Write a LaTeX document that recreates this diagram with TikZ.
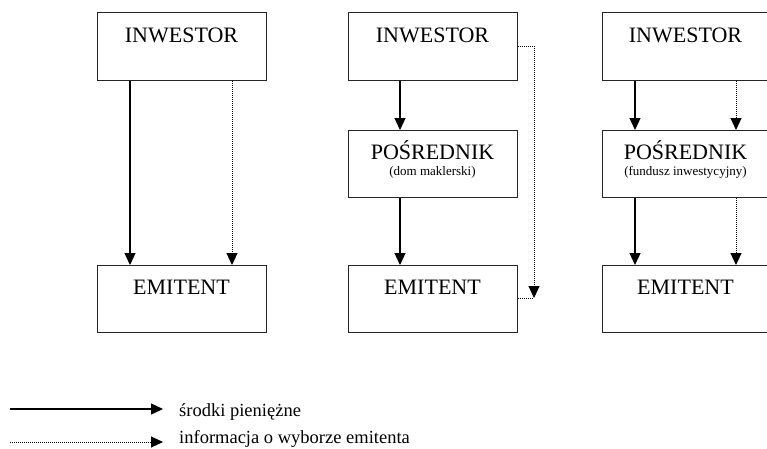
\documentclass[tikz,border=0pt]{standalone}
\usepackage{fontspec}
\setmainfont{Liberation Serif}
\usetikzlibrary{arrows.meta}
\tikzset{
  box/.style={draw=black!85, line width=1.1pt, minimum width=169pt, minimum height=67pt, anchor=north west, inner sep=0pt},
  big/.style={font=\fontsize{22}{24}\selectfont, anchor=base, inner sep=0pt},
  small/.style={font=\fontsize{13}{15}\selectfont, anchor=base, inner sep=0pt},
  leg/.style={font=\fontsize{18.5}{21}\selectfont, anchor=base west, inner sep=0pt},
  solidarrow/.style={line width=1.2pt, -{Triangle[width=11pt,length=12pt]}},
  dotarrow/.style={line width=1pt, dash pattern=on 1pt off 1pt, -{Triangle[width=11pt,length=12pt]}},
  dotline/.style={line width=1pt, dash pattern=on 1pt off 1pt}
}
\begin{document}
\begin{tikzpicture}[x=1pt,y=-1pt]
\useasboundingbox (0,0) rectangle (767,448);
% panel 1
\node[box, minimum height=68pt] (inv1) at (97,12) {};
\node[box, minimum height=67pt] (emi1) at (97,265) {};
\node[big] (tinv1) at (181.5,42) {INWESTOR};
\node[big] (temi1) at (181.5,294) {EMITENT};
\coordinate (a1) at (130,0);
\coordinate (b1) at (232,0);
\draw[solidarrow] (inv1.south -| a1) -- (emi1.north -| a1);
\draw[dotarrow] (inv1.south -| b1) -- (emi1.north -| b1);
% panel 2
\node[box, minimum height=68pt] (inv2) at (348,12) {};
\node[box, minimum height=67pt] (pos2) at (348,130) {};
\node[box, minimum height=67pt] (emi2) at (348,265) {};
\node[big] (tinv2) at (432.5,42) {INWESTOR};
\node[big] (tpos2) at (432.5,159) {POŚREDNIK};
\node[small] (tdom) at (432.5,175) {(dom maklerski)};
\node[big] (temi2) at (432.5,294) {EMITENT};
\coordinate (a2) at (400,0);
\draw[solidarrow] (inv2.south -| a2) -- (pos2.north -| a2);
\draw[solidarrow] (pos2.south -| a2) -- (emi2.north -| a2);
\coordinate (c2) at (534,46);
\coordinate (tip2) at (534,298);
\draw[dotarrow] (inv2.east |- c2) -- (c2) -- (tip2);
\draw[dotline] (emi2.east |- tip2) -- (tip2);
% panel 3
\node[box, minimum height=68pt] (inv3) at (602,12) {};
\node[box, minimum height=67pt] (pos3) at (602,130) {};
\node[box, minimum height=67pt] (emi3) at (602,265) {};
\node[big] (tinv3) at (685.5,42) {INWESTOR};
\node[big] (tpos3) at (685.5,159) {POŚREDNIK};
\node[small] (tfund) at (685.5,175) {(fundusz inwestycyjny)};
\node[big] (temi3) at (685.5,294) {EMITENT};
\coordinate (a3) at (635,0);
\coordinate (b3) at (736,0);
\draw[solidarrow] (inv3.south -| a3) -- (pos3.north -| a3);
\draw[solidarrow] (pos3.south -| a3) -- (emi3.north -| a3);
\draw[dotarrow] (inv3.south -| b3) -- (pos3.north -| b3);
\draw[dotarrow] (pos3.south -| b3) -- (emi3.north -| b3);
% legend
\coordinate (l1s) at (10,409);
\coordinate (l1e) at (163,409);
\coordinate (l2s) at (10,442);
\coordinate (l2e) at (163,442);
\draw[solidarrow] (l1s) -- (l1e);
\draw[dotarrow] (l2s) -- (l2e);
\node[leg] (leg1) at (179,416) {środki pieniężne};
\node[leg] (leg2) at (179,443.5) {informacja o wyborze emitenta};
\end{tikzpicture}
\end{document}
